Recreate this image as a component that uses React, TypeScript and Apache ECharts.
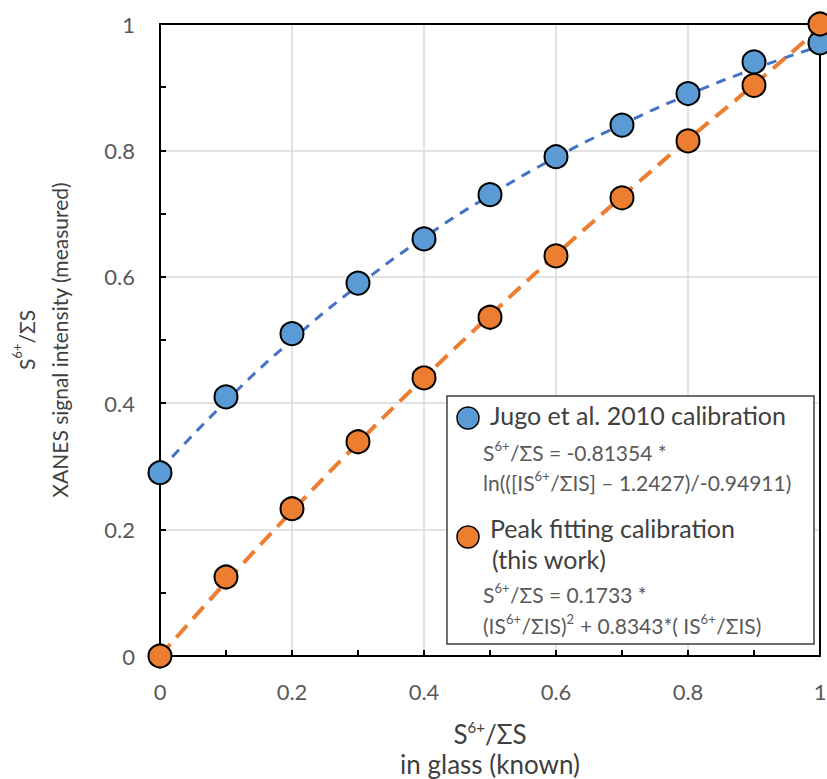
import React, { useEffect, useRef } from "react";
import * as echarts from "echarts";

const xValues = [0, 0.1, 0.2, 0.3, 0.4, 0.5, 0.6, 0.7, 0.8, 0.9, 1.0];
const jugoPoints = [0.29, 0.41, 0.51, 0.59, 0.66, 0.73, 0.79, 0.84, 0.89, 0.94, 0.97];
const peakPoints = [0.0, 0.125, 0.233, 0.339, 0.44, 0.536, 0.633, 0.725, 0.815, 0.903, 1.0];
const jugoTrend = [0.294, 0.403, 0.5, 0.586, 0.662, 0.729, 0.789, 0.841, 0.888, 0.929, 0.965];
const peakTrend = [0.0, 0.117, 0.229, 0.337, 0.44, 0.539, 0.635, 0.727, 0.817, 0.904, 0.994];

const xTicks = [0, 0.2, 0.4, 0.6, 0.8, 1];
const yTicks = [0, 0.2, 0.4, 0.6, 0.8, 1];

const legendEntries = ["Jugo et al. 2010 calibration", "Peak fitting calibration", "(this work)"];

// formula lines: segments of [text, isSuperscript]
const jugoFormula: [string, boolean][][] = [
  [["S", false], ["6+", true], ["/ΣS = -0.81354 *", false]],
  [["ln(([IS", false], ["6+", true], ["/ΣIS] – 1.2427)/-0.94911)", false]],
];
const peakFormula: [string, boolean][][] = [
  [["S", false], ["6+", true], ["/ΣS = 0.1733 *", false]],
  [["(IS", false], ["6+", true], ["/ΣIS)", false], ["2", true], [" + 0.8343*( IS", false], ["6+", true], ["/ΣIS)", false]],
];

const BLUE = "#5B9BD5";
const ORANGE = "#ED7D31";
const FONT = "Lato";

const pair = (xs: number[], ys: number[]) => xs.map((x, i) => [x, ys[i]]);

const fmtTick = (v: number, ticks: number[]) => {
  const t = ticks.find((k) => Math.abs(k - v) < 1e-9);
  if (t === undefined) return "";
  return t === 0 ? "0" : t === 1 ? "1" : String(t);
};

const MAIN_SIZE = 21;
const SUP_SIZE = 13;

function formulaElements(lines: [string, boolean][][], x0: number, yCenters: number[]) {
  const canvas = document.createElement("canvas");
  const ctx = canvas.getContext("2d")!;
  const out: any[] = [];
  lines.forEach((segs, li) => {
    let x = x0;
    const yc = yCenters[li];
    segs.forEach(([t, sup]) => {
      const size = sup ? SUP_SIZE : MAIN_SIZE;
      ctx.font = `${size}px ${FONT}`;
      const w = ctx.measureText(t).width;
      out.push({
        type: "text",
        x,
        y: sup ? yc - 6 : yc,
        z: 101,
        style: {
          text: t,
          fontSize: size,
          fontFamily: FONT,
          fill: "#595959",
          align: "left",
          verticalAlign: "middle",
        },
      });
      x += w + (sup ? 0.5 : 0);
    });
  });
  return out;
}

export default function App() {
  const ref = useRef<HTMLDivElement>(null);
  useEffect(() => {
    document.body.style.margin = "0";
    if (!ref.current) return;
    const chart = echarts.init(ref.current, undefined, { renderer: "svg" });
    const xNameRich = {
      a: { fontFamily: FONT, fontSize: 26, color: "#404040", lineHeight: 30 },
      s: { fontFamily: FONT, fontSize: 15, color: "#404040", verticalAlign: "top", lineHeight: 30 },
    };
    const yNameRich = {
      a: { fontFamily: FONT, fontSize: 21, color: "#404040", lineHeight: 33 },
      s: { fontFamily: FONT, fontSize: 13, color: "#404040", verticalAlign: "top", lineHeight: 33 },
    };
    const frameAxis = {
      type: "value",
      min: 0,
      max: 1,
      interval: 0.2,
      axisLine: { show: true, onZero: false, lineStyle: { color: "#000", width: 2 } },
      axisTick: { show: false },
      axisLabel: { show: false },
      splitLine: { show: false },
    };
    chart.setOption({
      animation: false,
      textStyle: { fontFamily: FONT },
      grid: { left: 160, right: 7, top: 24, bottom: 123, outerBoundsMode: "none", containLabel: false },
      xAxis: [
        {
          type: "value",
          min: 0,
          max: 1,
          interval: 0.2,
          name: "{a|S}{s|6+}{a|/ΣS}\n{a|in glass (known)}",
          nameLocation: "middle",
          nameGap: 63,
          nameTextStyle: { rich: xNameRich },
          axisLine: { show: true, onZero: false, lineStyle: { color: "#000", width: 2 } },
          axisTick: { show: true, inside: true, length: 6, lineStyle: { color: "#000", width: 2 } },
          minorTick: { show: true, splitNumber: 2, length: 6, lineStyle: { color: "#000", width: 2 } },
          splitLine: { show: true, lineStyle: { color: "#d9d9d9", width: 1.5 } },
          axisLabel: {
            margin: 24,
            fontSize: 22,
            color: "#595959",
            fontFamily: FONT,
            formatter: (v: number) => fmtTick(v, xTicks),
          },
        },
        { ...frameAxis, position: "top" },
      ],
      yAxis: [
        {
          type: "value",
          min: 0,
          max: 1,
          interval: 0.2,
          name: "{a|S}{s|6+}{a|/ΣS}\n{a|XANES signal intensity (measured)}",
          nameLocation: "middle",
          nameGap: 84,
          nameRotate: 90,
          nameTextStyle: { rich: yNameRich },
          axisLine: { show: true, onZero: false, lineStyle: { color: "#000", width: 2 } },
          axisTick: { show: true, inside: true, length: 6, lineStyle: { color: "#000", width: 2 } },
          minorTick: { show: true, splitNumber: 2, length: 6, lineStyle: { color: "#000", width: 2 } },
          splitLine: { show: true, lineStyle: { color: "#d9d9d9", width: 1.5 } },
          axisLabel: {
            margin: 25,
            fontSize: 22,
            color: "#595959",
            fontFamily: FONT,
            formatter: (v: number) => fmtTick(v, yTicks),
          },
        },
        { ...frameAxis, position: "right" },
      ],
      series: [
        {
          type: "line",
          data: pair(xValues, jugoTrend),
          smooth: true,
          showSymbol: false,
          silent: true,
          z: 2,
          lineStyle: { color: "#4472C4", width: 3, type: [10, 8] },
        },
        {
          type: "line",
          data: pair(xValues, peakTrend),
          smooth: true,
          showSymbol: false,
          silent: true,
          z: 2,
          lineStyle: { color: ORANGE, width: 4, type: [16, 9] },
        },
        {
          type: "scatter",
          data: pair(xValues, jugoPoints),
          symbolSize: 23,
          clip: false,
          z: 3,
          itemStyle: { color: BLUE, borderColor: "#000", borderWidth: 2, opacity: 1 },
        },
        {
          type: "scatter",
          data: pair(xValues, peakPoints),
          symbolSize: 23,
          clip: false,
          z: 4,
          itemStyle: { color: ORANGE, borderColor: "#000", borderWidth: 2, opacity: 1 },
        },
      ],
      graphic: [
        {
          type: "rect",
          z: 100,
          shape: { x: 447, y: 396, width: 367, height: 248 },
          style: { fill: "#fff", stroke: "#404040", lineWidth: 1.5 },
        },
        {
          type: "circle",
          z: 101,
          shape: { cx: 468, cy: 418, r: 11 },
          style: { fill: BLUE, stroke: "#000", lineWidth: 1.5 },
        },
        {
          type: "circle",
          z: 101,
          shape: { cx: 468, cy: 537, r: 11 },
          style: { fill: ORANGE, stroke: "#000", lineWidth: 1.5 },
        },
        {
          type: "text",
          left: 490,
          top: 402,
          z: 101,
          style: { text: legendEntries[0], fill: "#404040", fontSize: 25, fontFamily: FONT },
        },
        {
          type: "text",
          left: 490,
          top: 515,
          z: 101,
          style: { text: legendEntries[1], fill: "#404040", fontSize: 25, fontFamily: FONT },
        },
        {
          type: "text",
          left: 492,
          top: 546,
          z: 101,
          style: { text: legendEntries[2], fill: "#404040", fontSize: 25, fontFamily: FONT },
        },
        ...formulaElements(jugoFormula, 483, [452, 482]),
        ...formulaElements(peakFormula, 483, [594, 625]),
      ],
    });
    return () => chart.dispose();
  }, []);
  return <div ref={ref} style={{ width: 827, height: 779 }} />;
}
